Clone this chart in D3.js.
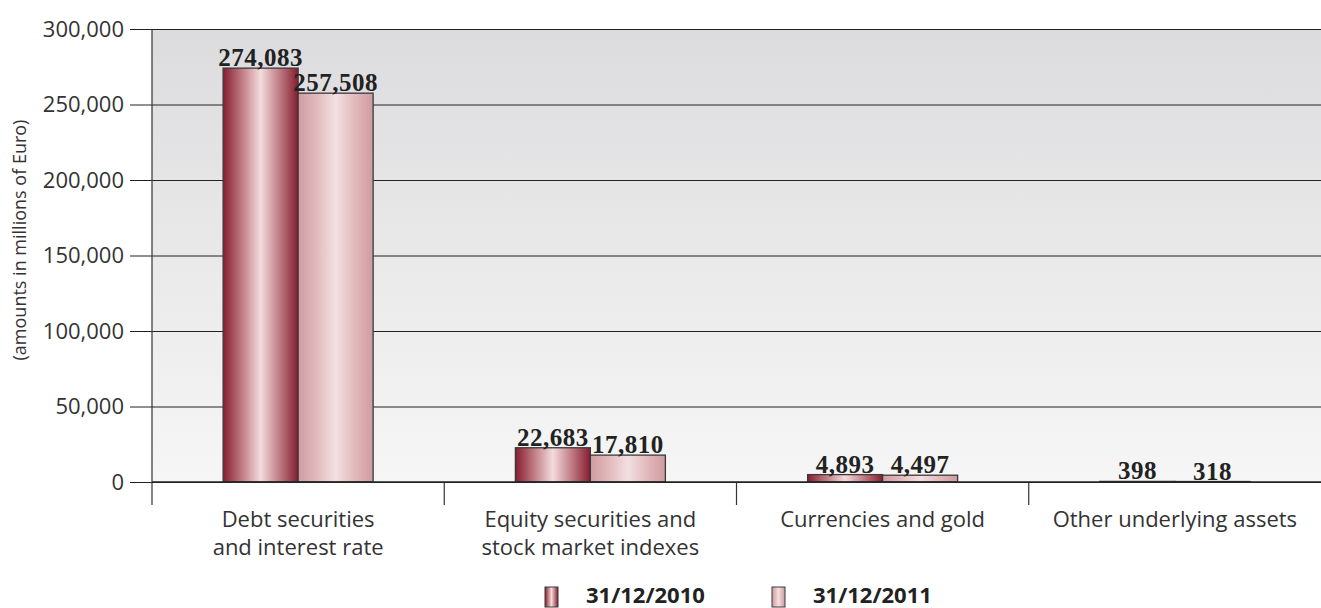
<!DOCTYPE html>
<html>
<head>
<meta charset="utf-8">
<script src="https://cdn.jsdelivr.net/npm/d3@7"></script>
<style>
  html, body { margin: 0; padding: 0; background: #ffffff; }
  svg { display: block; }
</style>
</head>
<body>
<svg id="chart" width="1321" height="608"></svg>
<script>
// Notional amounts of derivatives by underlying asset
const categories = [
  ["Debt securities", "and interest rate"],
  ["Equity securities and", "stock market indexes"],
  ["Currencies and gold"],
  ["Other underlying assets"]
];
const seriesNames = ["31/12/2010", "31/12/2011"];
const values2010 = [274083, 22683, 4893, 398];
const values2011 = [257508, 17810, 4497, 318];
const yTicks = [0, 50000, 100000, 150000, 200000, 250000, 300000];

const svg = d3.select("#chart");
const plotLeft = 152, plotRight = 1321, plotTop = 29, plotBottom = 482;
const sansFont = "'Open Sans', Lato, sans-serif";

const defs = svg.append("defs");

// plot background: light grey fading to near-white
const bg = defs.append("linearGradient").attr("id", "bg")
  .attr("x1", 0).attr("y1", 0).attr("x2", 0).attr("y2", 1);
bg.append("stop").attr("offset", "0%").attr("stop-color", "#dcdcde");
bg.append("stop").attr("offset", "100%").attr("stop-color", "#f6f6f6");

// cylinder-like horizontal shading for the bars
function barGradient(id, edge, mid, center) {
  const g = defs.append("linearGradient").attr("id", id)
    .attr("x1", 0).attr("y1", 0).attr("x2", 1).attr("y2", 0);
  g.append("stop").attr("offset", "0%").attr("stop-color", edge);
  g.append("stop").attr("offset", "25%").attr("stop-color", mid);
  g.append("stop").attr("offset", "50%").attr("stop-color", center);
  g.append("stop").attr("offset", "75%").attr("stop-color", mid);
  g.append("stop").attr("offset", "100%").attr("stop-color", edge);
}
barGradient("g2010", "#861c30", "#c07c84", "#f3dcdd");
barGradient("g2011", "#cf9ba0", "#e2babd", "#f3e0e0");
const fills = ["url(#g2010)", "url(#g2011)"];

const y = d3.scaleLinear().domain([0, 300000]).range([plotBottom, plotTop]);
const x0 = d3.scaleBand().domain(d3.range(categories.length)).range([plotLeft, plotRight]);
const barW = 75;
const x1 = d3.scaleBand().domain([0, 1]).range([0, barW * 2]).padding(0);

svg.append("rect")
  .attr("x", plotLeft).attr("y", plotTop)
  .attr("width", plotRight - plotLeft).attr("height", plotBottom - plotTop)
  .attr("fill", "url(#bg)");

// y axis with gridlines
const yAxis = d3.axisLeft(y)
  .tickValues(yTicks)
  .tickSize(-(plotRight - plotLeft))
  .tickFormat(d3.format(","));
const yg = svg.append("g").attr("transform", `translate(${plotLeft},0)`).call(yAxis);
yg.select(".domain").remove();
yg.selectAll(".tick line")
  .attr("x1", -22)
  .attr("stroke", "#222").attr("stroke-width", 1);
yg.selectAll(".tick text")
  .attr("x", -28)
  .attr("fill", "#333")
  .style("font-family", sansFont)
  .style("font-size", "22px");

// vertical axis line, extended below zero
svg.append("line")
  .attr("x1", plotLeft).attr("x2", plotLeft)
  .attr("y1", plotTop).attr("y2", 505)
  .attr("stroke", "#333").attr("stroke-width", 1.2);

// category separators
d3.range(1, categories.length).forEach(i => {
  const xx = x0(i);
  svg.append("line")
    .attr("x1", xx).attr("x2", xx)
    .attr("y1", plotBottom).attr("y2", 505)
    .attr("stroke", "#333").attr("stroke-width", 1.2);
});

// axis title
svg.append("text")
  .attr("transform", "translate(26,240) rotate(-90)")
  .attr("text-anchor", "middle")
  .attr("fill", "#333")
  .style("font-family", sansFont)
  .style("font-size", "18px")
  .text("(amounts in millions of Euro)");

// bars
const rows = categories.map((c, i) => [values2010[i], values2011[i]]);
const groups = svg.selectAll("g.cat").data(rows).join("g")
  .attr("class", "cat")
  .attr("transform", (d, i) => `translate(${x0(i) + (x0.bandwidth() - barW * 2) / 2},0)`);

groups.selectAll("rect").data(d => d).join("rect")
  .attr("x", (d, j) => x1(j))
  .attr("y", d => y(d))
  .attr("width", x1.bandwidth())
  .attr("height", d => plotBottom - y(d))
  .attr("fill", (d, j) => fills[j])
  .attr("stroke", "#3a3a3a")
  .attr("stroke-width", 1.3);

groups.selectAll("text.val").data(d => d).join("text")
  .attr("class", "val")
  .attr("x", (d, j) => x1(j) + x1.bandwidth() / 2)
  .attr("y", d => y(d) - 2)
  .attr("text-anchor", "middle")
  .attr("fill", "#222")
  .style("font-family", "'Liberation Serif', 'DejaVu Serif', serif")
  .style("font-weight", "bold")
  .style("font-size", "25px")
  .style("letter-spacing", "0.5px")
  .text(d => d3.format(",")(d));

// zero baseline
svg.append("line")
  .attr("x1", plotLeft).attr("x2", plotRight)
  .attr("y1", plotBottom).attr("y2", plotBottom)
  .attr("stroke", "#222").attr("stroke-width", 1.3);

// category labels
categories.forEach((lines, i) => {
  const cx = x0(i) + x0.bandwidth() / 2;
  const t = svg.append("text")
    .attr("x", cx)
    .attr("y", 527)
    .attr("text-anchor", "middle")
    .attr("fill", "#333")
    .style("font-family", sansFont)
    .style("font-size", "22px");
  lines.forEach((l, k) => {
    t.append("tspan").attr("x", cx)
      .attr("dy", k === 0 ? 0 : 28).text(l);
  });
});

// legend
const legendX = [545, 772];
seriesNames.forEach((name, j) => {
  svg.append("rect")
    .attr("x", legendX[j]).attr("y", 587)
    .attr("width", 13).attr("height", 20)
    .attr("fill", fills[j])
    .attr("stroke", "#3a3a3a").attr("stroke-width", 1);
  svg.append("text")
    .attr("x", legendX[j] + 41).attr("y", 603)
    .attr("fill", "#222")
    .style("font-family", sansFont)
    .style("font-weight", "bold")
    .style("font-size", "22px")
    .text(name);
});
</script>
</body>
</html>
